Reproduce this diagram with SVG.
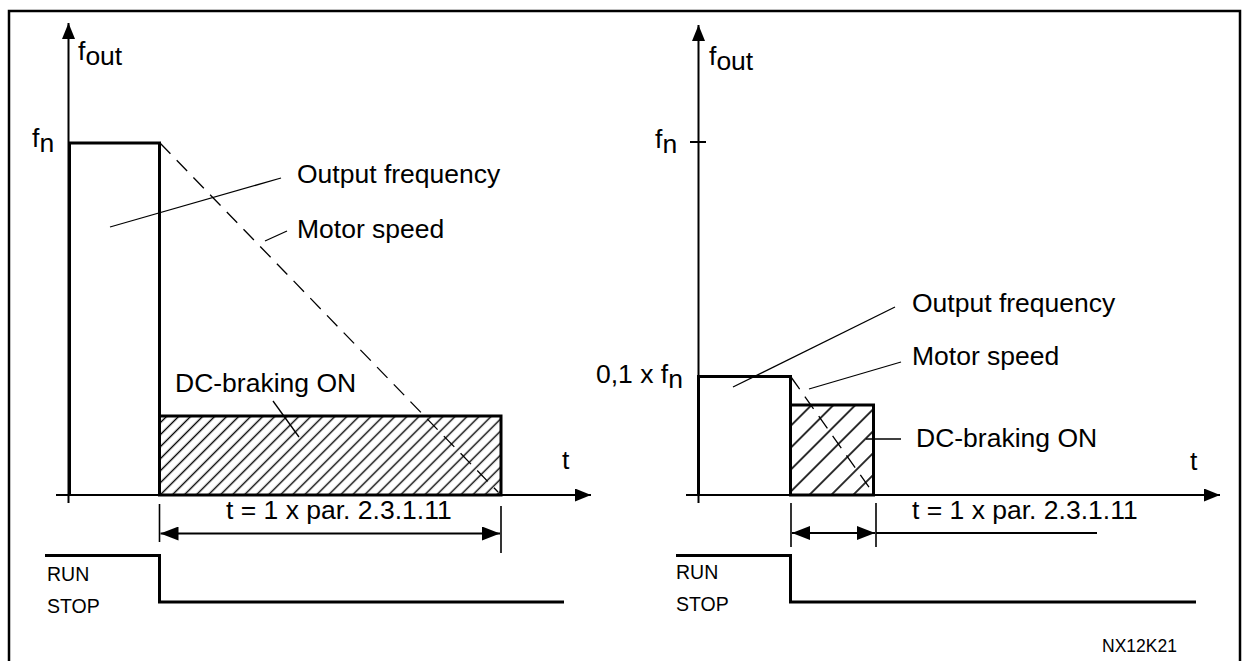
<svg xmlns="http://www.w3.org/2000/svg" width="1247" height="661" viewBox="0 0 1247 661">
<style>
text{font-family:"Liberation Sans",Arial,sans-serif;fill:#000}
.lbl{font-size:26.5px}
.sig{font-size:19.5px}
.code{font-size:17.5px}
.thick{fill:none;stroke:#000;stroke-width:3;stroke-linejoin:miter}
.axis{fill:none;stroke:#000;stroke-width:2}
.lead{fill:none;stroke:#000;stroke-width:1.3}
.dash{fill:none;stroke:#000;stroke-width:1.3;stroke-dasharray:15 9}
.dim{fill:none;stroke:#000;stroke-width:2}
.tick{fill:none;stroke:#000;stroke-width:1.6}
</style>
<defs>
<pattern id="hatchL" width="8.5" height="8.5" patternUnits="userSpaceOnUse" patternTransform="rotate(45)">
<line x1="4.25" y1="0" x2="4.25" y2="8.5" stroke="#000" stroke-width="1.4"/>
</pattern>
<pattern id="hatchR" width="15.5" height="15.5" patternUnits="userSpaceOnUse" patternTransform="rotate(45)">
<line x1="7.75" y1="0" x2="7.75" y2="15.5" stroke="#000" stroke-width="1.6"/>
</pattern>
<marker id="arrow" viewBox="0 0 18 14" refX="18" refY="7" markerWidth="18" markerHeight="14" markerUnits="userSpaceOnUse" orient="auto-start-reverse">
<path d="M0,0 L18,7 L0,14 Z" fill="#000"/>
</marker>
<marker id="arrowAx" viewBox="0 0 16 13" refX="16" refY="6.5" markerWidth="16" markerHeight="13" markerUnits="userSpaceOnUse" orient="auto">
<path d="M0,0 L16,6.5 L0,13 Z" fill="#000"/>
</marker>
</defs>
<rect x="9" y="11" width="1231" height="670" fill="#fff" stroke="#000" stroke-width="2.5"/>

<g id="left-chart">
<g id="left-axes">
<line class="axis" x1="68.5" y1="503" x2="68.5" y2="23" marker-end="url(#arrowAx)"/>
<line class="axis" x1="56" y1="495" x2="591" y2="495" marker-end="url(#arrowAx)"/>
<text class="lbl" x="78" y="60">f<tspan dy="4.5">out</tspan></text>
<text class="lbl" x="32" y="147">f<tspan dy="5">n</tspan></text>
<text class="lbl" x="562" y="469">t</text>
</g>
<g id="left-output">
<polyline class="thick" points="69.5,495 69.5,143 159.5,143 159.5,495"/>
<rect x="159.5" y="416" width="341.5" height="79" fill="url(#hatchL)" stroke="#000" stroke-width="3"/>
</g>
<g id="left-labels">
<text class="lbl" x="297" y="183">Output frequency</text>
<text class="lbl" x="297" y="238">Motor speed</text>
<text class="lbl" x="175" y="392">DC-braking ON</text>
<text class="lbl" x="226" y="519">t = 1 x par. 2.3.1.11</text>
</g>
<g id="left-signal">
<polyline class="thick" points="45,555.5 159.5,555.5 159.5,602 564,602"/>
<text class="sig" x="47" y="581">RUN</text>
<text class="sig" x="47" y="613">STOP</text>
</g>
</g>

<g id="right-chart">
<g id="right-axes">
<line class="axis" x1="698.5" y1="503" x2="698.5" y2="25" marker-end="url(#arrowAx)"/>
<line class="axis" x1="686" y1="495" x2="1220" y2="495" marker-end="url(#arrowAx)"/>
<line class="axis" x1="690" y1="142" x2="706" y2="142"/>
<text class="lbl" x="709" y="65">f<tspan dy="5">out</tspan></text>
<text class="lbl" x="655" y="148">f<tspan dy="5">n</tspan></text>
<text class="lbl" x="596" y="383">0,1 x f<tspan dy="5">n</tspan></text>
<text class="lbl" x="1190" y="470">t</text>
</g>
<g id="right-output">
<polyline class="thick" points="698.5,495 698.5,376.5 790.5,376.5 790.5,495"/>
<rect x="790.5" y="405" width="83" height="90" fill="url(#hatchR)" stroke="#000" stroke-width="3"/>
</g>
<g id="right-labels">
<text class="lbl" x="912" y="312">Output frequency</text>
<text class="lbl" x="912" y="365">Motor speed</text>
<text class="lbl" x="916" y="447">DC-braking ON</text>
<text class="lbl" x="912" y="519">t = 1 x par. 2.3.1.11</text>
</g>
<g id="right-signal">
<polyline class="thick" points="676,555.5 790.5,555.5 790.5,602 1196,602"/>
<text class="sig" x="676" y="579">RUN</text>
<text class="sig" x="676" y="611">STOP</text>
</g>
<text class="code" x="1102" y="652">NX12K21</text>
</g>

<g id="connectors">
<line class="dash" x1="160" y1="143" x2="498" y2="492"/>
<line class="lead" x1="110" y1="227" x2="281" y2="178"/>
<line class="lead" x1="265" y1="241" x2="287" y2="231"/>
<line class="lead" x1="273" y1="401" x2="299" y2="437"/>
<line class="tick" x1="159.5" y1="504" x2="159.5" y2="542"/>
<line class="tick" x1="501" y1="506" x2="501" y2="553"/>
<line class="dim" x1="160.5" y1="533.5" x2="500" y2="533.5" marker-start="url(#arrow)" marker-end="url(#arrow)"/>

<line class="dash" x1="791" y1="377" x2="871" y2="490"/>
<line class="lead" x1="733" y1="387" x2="895" y2="307"/>
<line class="lead" x1="809" y1="389" x2="901" y2="362"/>
<line class="lead" x1="866" y1="439" x2="901" y2="439"/>
<line class="tick" x1="791" y1="503" x2="791" y2="547"/>
<line class="tick" x1="876" y1="503" x2="876" y2="547"/>
<line class="dim" x1="792" y1="533" x2="875" y2="533" marker-start="url(#arrow)" marker-end="url(#arrow)"/>
<line class="dim" x1="876" y1="533" x2="1097" y2="533"/>
</g>
</svg>
